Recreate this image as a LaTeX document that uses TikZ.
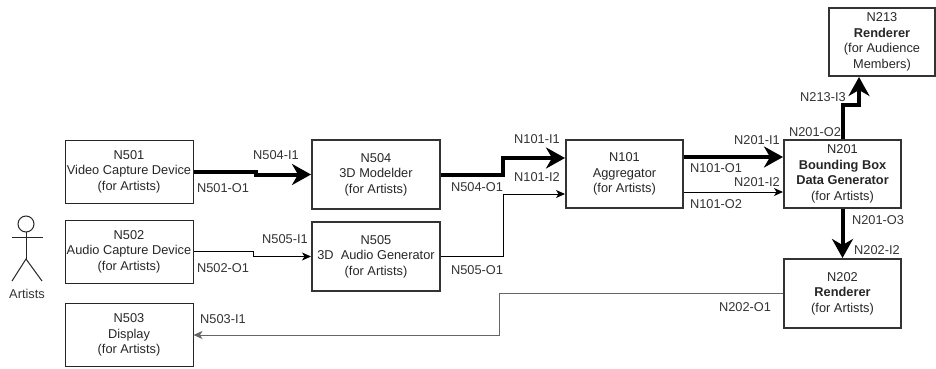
\documentclass[tikz,border=0pt]{standalone}
\usepackage{fontspec}
\setmainfont{Liberation Sans}
\usetikzlibrary{calc}
\usetikzlibrary{arrows.meta}

\begin{document}
\begin{tikzpicture}[x=1pt,y=-1pt,font=\fontsize{12.8}{15.5}\selectfont]
    \tikzstyle{unit}=[draw=black!85,line width=1pt,minimum width=128pt,minimum height=63pt,align=center,text=black!85,inner sep=0pt]
    \tikzstyle{main unit}=[unit,line width=2pt,draw=black!80]
    \tikzstyle{signal}=[-{Stealth[length=9pt,width=8pt,inset=2.5pt]},line width=1pt,color=black]
    \tikzstyle{stream}=[-{Stealth[length=19pt,width=21pt,inset=6pt]},line width=4pt,color=black]
    \tikzstyle{feedback}=[signal,color=black!60]
    \tikzstyle{port}=[text=black!80,inner sep=0pt]

    \useasboundingbox (0,0) rectangle (936,369);

    % Artist side
    \node[unit] (n501) at (129,171.5) {N501\\Video Capture Device\\(for Artists)};
    \node[unit] (n502) at (129,251.5) {N502\\Audio Capture Device\\(for Artists)};
    \node[unit] (n503) at (129,335) {N503\\Display\\(for Artists)};

    \node[main unit,minimum height=69pt] (n504) at (376,174.5) {N504\\3D Modelder\\(for Artists)};
    \node[main unit,minimum height=69pt] (n505) at (376,256.5) {N505\\3D\ \ Audio Generator\\(for Artists)};

    % Server side
    \node[main unit,minimum width=117pt,minimum height=68pt] (n101) at (624.5,174) {N101\\Aggregator\\(for Artists)};
    \node[main unit,minimum width=117pt,minimum height=68pt] (n201) at (842.5,174) {N201\\\textbf{Bounding Box}\\\textbf{Data Generator}\\(for Artists)};
    \node[main unit,minimum width=117pt,minimum height=69pt] (n202) at (842.5,293.5) {N202\\\textbf{Renderer}\\(for Artists)};
    \node[main unit,minimum width=106pt,minimum height=68pt] (n213) at (882,42) {N213\\\textbf{Renderer}\\(for Audience\\Members)};

    % Actor
    \draw[line width=1pt,color=black!85] (26,224) circle (8pt);
    \draw[line width=1pt,color=black!85] (12,237) -- (43,237);
    \draw[line width=1pt,color=black!85] (26,232) -- (26,259);
    \draw[line width=1pt,color=black!85] (12,281) -- (26,259) -- (42,281);
    \node[port] (artists) at (27,294) {Artists};

    % Capture to modelling
    \draw[style=stream] (n501.east) -- ++(62,0) |- (n504.west);
    \draw[style=signal] (n502.east) -- ++(60,0) |- (n505.west);

    % Into the aggregator
    \draw[style=stream] (n504.east) -- ++(62,0) |- ($(n101.west)+(0,-16)$);
    \draw[style=signal] (n505.east) -- ++(62,0) |- ($(n101.west)+(0,20)$);

    % Aggregator to bounding box
    \draw[style=stream] ($(n101.east)+(0,-17)$) -- ($(n201.west)+(0,-17)$);
    \draw[style=signal] ($(n101.east)+(0,18)$) -- ($(n201.west)+(0,18)$);

    % Renderers
    \draw[style=stream] (n201.north) -- ++(0,-34) -| ($(n213.south)+(-23,0)$);
    \draw[style=stream] (n201.south) -- (n202.north);
    \draw[style=feedback] (n202.west) -- ++(-284,0) |- (n503.east);

    % Port labels
    \node[port] (p504i1) at (276,155) {N504-I1};
    \node[port] (p501o1) at (223,188) {N501-O1};
    \node[port] (p505i1) at (285,239) {N505-I1};
    \node[port] (p502o1) at (223,268) {N502-O1};
    \node[port] (p503i1) at (223,319) {N503-I1};
    \node[port] (p504o1) at (477,187) {N504-O1};
    \node[port] (p505o1) at (477,270) {N505-O1};
    \node[port] (p101i1) at (537,139) {N101-I1};
    \node[port] (p101i2) at (537,177) {N101-I2};
    \node[port] (p101o1) at (716,168) {N101-O1};
    \node[port] (p101o2) at (716,204) {N101-O2};
    \node[port] (p201i1) at (757,140) {N201-I1};
    \node[port] (p201i2) at (757,182) {N201-I2};
    \node[port] (p201o2) at (815,132) {N201-O2};
    \node[port] (p213i3) at (823,97) {N213-I3};
    \node[port] (p201o3) at (878,220) {N201-O3};
    \node[port] (p202i2) at (877,250) {N202-I2};
    \node[port] (p202o1) at (745,307) {N202-O1};

\end{tikzpicture}
\end{document}
